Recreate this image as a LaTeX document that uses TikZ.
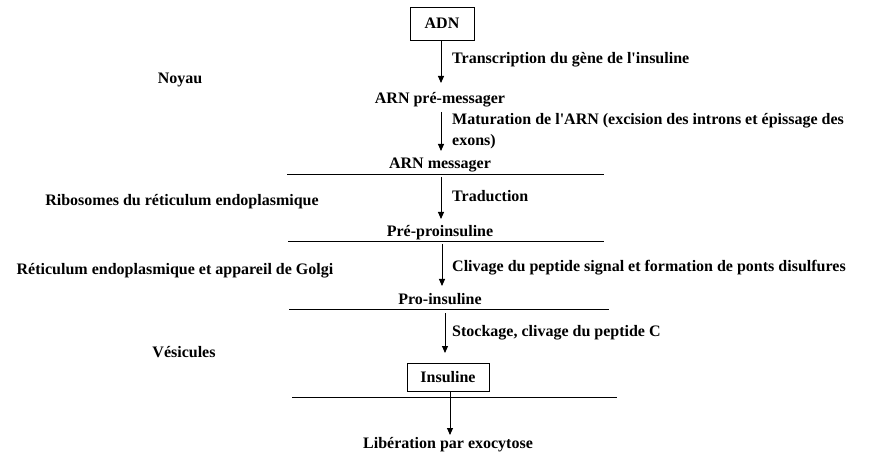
\documentclass[tikz,border=0pt]{standalone}
\usepackage{fontspec}
\setmainfont{Liberation Serif}
\usetikzlibrary{arrows.meta}
\begin{document}
\begin{tikzpicture}[x=1pt,y=-1pt,
  txt/.style={font=\bfseries\fontsize{16}{18}\selectfont, inner sep=0pt},
  lbl/.style={txt, anchor=west},
  arr/.style={-{Triangle[length=7pt,width=6pt]}, line width=0.9pt},
  sep/.style={line width=0.9pt}]
\useasboundingbox (0,0) rectangle (875,454);
% boxes
\node[txt, draw, line width=0.9pt, minimum width=64pt, minimum height=33pt] (adn) at (442,23.5) {ADN};
\node[txt] (premes) at (440,100) {ARN pré-messager};
\node[txt] (mes) at (440,165) {ARN messager};
\node[txt] (prepro) at (440,233) {Pré-proinsuline};
\node[txt] (pro) at (440,299) {Pro-insuline};
\node[txt, draw, line width=0.9pt, minimum width=82pt, minimum height=28pt] (ins) at (448,377) {Insuline};
\node[txt] (lib) at (448,445) {Libération par exocytose};
% separator lines
\coordinate (l1a) at (287,174); \coordinate (l1b) at (604,174);
\coordinate (l2a) at (288,241); \coordinate (l2b) at (604,241);
\coordinate (l3a) at (289,309); \coordinate (l3b) at (609,309);
\coordinate (l4a) at (292,397); \coordinate (l4b) at (617,397);
\draw[sep] (l1a) -- (l1b);
\draw[sep] (l2a) -- (l2b);
\draw[sep] (l3a) -- (l3b);
\draw[sep] (l4a) -- (l4b);
% arrows
\coordinate (a1s) at (441,40); \coordinate (a1e) at (441,83);
\coordinate (a2s) at (441,112); \coordinate (a2e) at (441,151);
\coordinate (a3s) at (441,177); \coordinate (a3e) at (441,219);
\coordinate (a4s) at (442,244); \coordinate (a4e) at (442,286);
\coordinate (a5s) at (445,313); \coordinate (a5e) at (445,353);
\coordinate (a6e) at (450,435);
\draw[arr] (adn.south -| a1s) -- (a1e);
\draw[arr] (a2s) -- (a2e);
\draw[arr] (a3s) -- (a3e);
\draw[arr] (a4s) -- (a4e);
\draw[arr] (a5s) -- (a5e);
\draw[arr] (ins.south -| a6e) -- (a6e);
% step labels
\node[lbl] (t1) at (452,60) {Transcription du gène de l\textquotesingle insuline};
\node[lbl] (t2) at (452,121) {Maturation de l\textquotesingle ARN (excision des introns et épissage des};
\node[lbl] (t2b) at (452,142) {exons)};
\node[lbl] (t3) at (452,196) {Traduction};
\node[lbl] (t4) at (452,268) {Clivage du peptide signal et formation de ponts disulfures};
\node[lbl] (t5) at (452,333) {Stockage, clivage du peptide C};
% compartment labels
\node[txt] (noy) at (180,80) {Noyau};
\node[txt] (rib) at (182,202) {Ribosomes du réticulum endoplasmique};
\node[txt] (ret) at (175,271) {Réticulum endoplasmique et appareil de Golgi};
\node[txt] (ves) at (184,352) {Vésicules};
\end{tikzpicture}
\end{document}
